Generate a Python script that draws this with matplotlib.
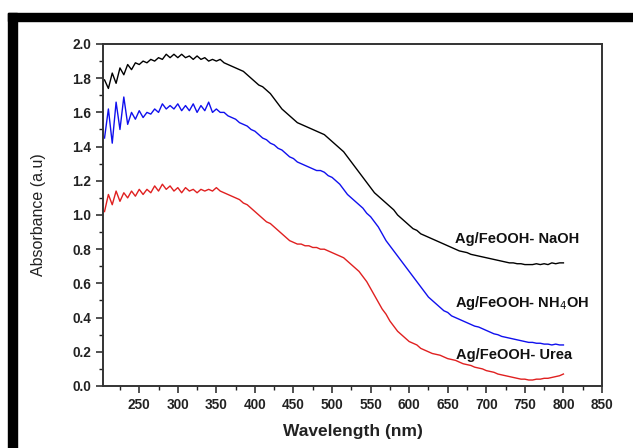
import matplotlib
matplotlib.use('Agg')
import matplotlib.pyplot as plt
from matplotlib.patches import Rectangle
from matplotlib.ticker import MultipleLocator

plt.rcParams['font.family'] = ['Liberation Sans', 'DejaVu Sans']

# Wavelength grid (nm), 5 nm steps
wavelength = list(range(205, 801, 5))

# Ag/FeOOH- NaOH
naoh = [1.79, 1.74, 1.83, 1.77, 1.86, 1.82, 1.88, 1.85, 1.89, 1.88,
        1.90, 1.89, 1.91, 1.90, 1.92, 1.91, 1.94, 1.92, 1.94, 1.92,
        1.94, 1.92, 1.93, 1.91, 1.93, 1.91, 1.92, 1.90, 1.91, 1.90,
        1.91, 1.89, 1.88, 1.87, 1.86, 1.85, 1.84, 1.82, 1.80, 1.78,
        1.76, 1.75, 1.73, 1.71, 1.68, 1.65, 1.62, 1.60, 1.58, 1.56,
        1.54, 1.53, 1.52, 1.51, 1.50, 1.49, 1.48, 1.47, 1.45, 1.43,
        1.41, 1.39, 1.37, 1.34, 1.31, 1.28, 1.25, 1.22, 1.19, 1.16,
        1.13, 1.11, 1.09, 1.07, 1.05, 1.03, 1.00, 0.98, 0.96, 0.94,
        0.92, 0.91, 0.89, 0.88, 0.87, 0.86, 0.85, 0.84, 0.83, 0.82,
        0.81, 0.80, 0.79, 0.785, 0.78, 0.77, 0.765, 0.76, 0.755, 0.75,
        0.745, 0.74, 0.735, 0.73, 0.725, 0.72, 0.72, 0.715, 0.715, 0.71,
        0.71, 0.71, 0.715, 0.71, 0.715, 0.71, 0.72, 0.715, 0.72, 0.72]

# Ag/FeOOH- NH4OH
nh4oh = [1.45, 1.62, 1.42, 1.66, 1.50, 1.69, 1.53, 1.60, 1.56, 1.61,
         1.57, 1.60, 1.59, 1.62, 1.60, 1.65, 1.62, 1.64, 1.62, 1.65,
         1.61, 1.64, 1.61, 1.65, 1.60, 1.64, 1.61, 1.66, 1.60, 1.62,
         1.60, 1.60, 1.58, 1.57, 1.56, 1.54, 1.53, 1.52, 1.50, 1.49,
         1.47, 1.45, 1.44, 1.42, 1.41, 1.39, 1.38, 1.36, 1.34, 1.33,
         1.31, 1.30, 1.29, 1.28, 1.27, 1.26, 1.26, 1.25, 1.23, 1.22,
         1.20, 1.18, 1.15, 1.12, 1.10, 1.08, 1.06, 1.04, 1.01, 0.99,
         0.96, 0.93, 0.89, 0.85, 0.82, 0.79, 0.76, 0.73, 0.70, 0.67,
         0.64, 0.61, 0.58, 0.55, 0.52, 0.50, 0.48, 0.46, 0.44, 0.43,
         0.41, 0.40, 0.39, 0.38, 0.37, 0.36, 0.35, 0.345, 0.335, 0.325,
         0.315, 0.305, 0.30, 0.29, 0.285, 0.28, 0.275, 0.27, 0.265, 0.26,
         0.255, 0.255, 0.25, 0.25, 0.245, 0.245, 0.24, 0.245, 0.24, 0.24]

# Ag/FeOOH- Urea
urea = [1.02, 1.12, 1.06, 1.14, 1.08, 1.13, 1.10, 1.14, 1.11, 1.15,
        1.12, 1.15, 1.13, 1.17, 1.14, 1.18, 1.15, 1.17, 1.14, 1.16,
        1.13, 1.16, 1.14, 1.15, 1.13, 1.15, 1.14, 1.15, 1.14, 1.16,
        1.14, 1.13, 1.12, 1.11, 1.10, 1.09, 1.07, 1.06, 1.04, 1.02,
        1.00, 0.98, 0.96, 0.95, 0.93, 0.91, 0.89, 0.87, 0.85, 0.84,
        0.83, 0.83, 0.82, 0.82, 0.81, 0.81, 0.80, 0.80, 0.79, 0.78,
        0.77, 0.76, 0.75, 0.73, 0.71, 0.69, 0.67, 0.64, 0.61, 0.57,
        0.53, 0.49, 0.45, 0.42, 0.38, 0.35, 0.32, 0.30, 0.28, 0.26,
        0.25, 0.24, 0.22, 0.21, 0.20, 0.19, 0.185, 0.18, 0.17, 0.16,
        0.155, 0.15, 0.14, 0.13, 0.125, 0.12, 0.11, 0.105, 0.10, 0.09,
        0.085, 0.08, 0.07, 0.065, 0.06, 0.055, 0.05, 0.045, 0.04, 0.04,
        0.035, 0.035, 0.04, 0.04, 0.045, 0.045, 0.05, 0.055, 0.06, 0.07]

series = [
    ('Ag/FeOOH- NaOH', naoh, '#000000', (659, 0.86)),
    ('Ag/FeOOH- NH$_4$OH', nh4oh, '#1010ee', (659, 0.485)),
    ('Ag/FeOOH- Urea', urea, '#e02020', (661, 0.18)),
]

fig = plt.figure(figsize=(6.33, 4.48), dpi=100)
ax = fig.add_axes([0.1627, 0.1384, 0.7883, 0.7634])

for name, values, color, (lx, ly) in series:
    ax.plot(wavelength, values, color=color, lw=1.0)
    ax.text(lx, ly, name, color='#111111', fontsize=10.5, fontweight='bold',
            ha='left', va='center')

ax.set_xlim(203, 850)
ax.set_ylim(0, 2.0)
ax.xaxis.set_minor_locator(MultipleLocator(25))
ax.yaxis.set_minor_locator(MultipleLocator(0.1))
ax.set_xticks(range(250, 851, 50))
ax.set_yticks([i / 10 for i in range(0, 21, 2)])
ax.set_yticklabels(['%.1f' % (i / 10) for i in range(0, 21, 2)])

ax.tick_params(which='major', direction='out', length=5, width=1.1,
               labelsize=9.8, top=False, right=False, color='#222222')
ax.tick_params(which='minor', direction='out', length=3, width=1.0,
               top=False, right=False, color='#222222')
for lab in ax.get_xticklabels() + ax.get_yticklabels():
    lab.set_fontweight('bold')
    lab.set_color('#222222')
for sp in ax.spines.values():
    sp.set_linewidth(1.4)
    sp.set_color('#333333')

ax.set_xlabel('Wavelength (nm)', fontsize=12.5, fontweight='bold', color='#222222')
ax.set_ylabel('Absorbance (a.u)', fontsize=11.5, fontweight='medium', color='#222222')
ax.xaxis.set_label_coords(0.5, -0.11)
ax.yaxis.set_label_coords(-0.115, 0.5)

# black frame on top and left edges
fig.patches.append(Rectangle((8 / 633, 1 - 21 / 448), 1, 8 / 448,
                             transform=fig.transFigure, color='black', zorder=10))
fig.patches.append(Rectangle((8 / 633, 0), 9 / 633, 1 - 13 / 448,
                             transform=fig.transFigure, color='black', zorder=10))

fig.savefig('out.png', dpi=100)
